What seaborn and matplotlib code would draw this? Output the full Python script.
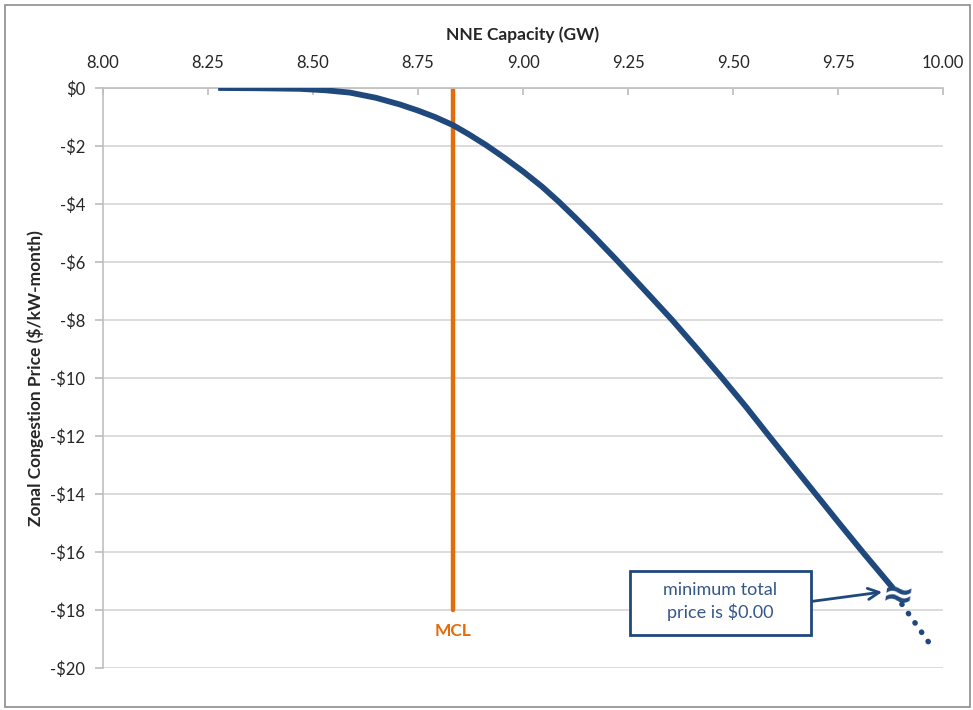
import matplotlib
matplotlib.use("Agg")
import matplotlib.pyplot as plt
import seaborn as sns
import pandas as pd
from matplotlib.patches import Rectangle

# Data
capacity_gw = [8.274, 8.37, 8.469, 8.53, 8.588, 8.65, 8.707, 8.75, 8.79, 8.833,
               8.87, 8.912, 8.955, 9.00, 9.045, 9.085, 9.125, 9.165, 9.222, 9.29,
               9.355, 9.415, 9.474, 9.53, 9.583, 9.64, 9.695, 9.755, 9.812, 9.881]
price = [0.0, -0.01, -0.03, -0.08, -0.16, -0.34, -0.57, -0.78, -1.00, -1.28,
         -1.59, -1.97, -2.40, -2.88, -3.40, -3.92, -4.48, -5.06, -5.92, -6.98,
         -8.0, -9.0, -10.0, -10.98, -11.95, -12.98, -13.97, -15.05, -16.06, -17.25]
dotted_x = [9.902, 9.970]
dotted_y = [-17.80, -19.20]
mcl_x = 8.833
mcl_bottom = -18.0
x_ticks = [8.00, 8.25, 8.50, 8.75, 9.00, 9.25, 9.50, 9.75, 10.00]
y_ticks = [0, -2, -4, -6, -8, -10, -12, -14, -16, -18, -20]

sns.set_theme(style="white")
plt.rcParams['font.family'] = ['Lato', 'DejaVu Sans']

blue = "#1F497D"
orange = "#E46C0A"

fig = plt.figure(figsize=(9.73, 7.1), dpi=100)
ax = fig.add_axes([0.1059, 0.0592, 0.8633, 0.8169])

df = pd.DataFrame({"x": capacity_gw, "y": price})
ax.yaxis.grid(True, color="#D9D9D9", linewidth=1.3)
ax.set_axisbelow(True)
sns.lineplot(data=df, x="x", y="y", ax=ax, color=blue, linewidth=4.2,
             solid_capstyle="butt", solid_joinstyle="round", zorder=3)
ax.plot(dotted_x, dotted_y, color=blue, linewidth=4.0, linestyle=(0, (0.05, 2.0)),
        dash_capstyle="round", zorder=3)

# MCL line
ax.plot([mcl_x, mcl_x], [0, mcl_bottom], color=orange, linewidth=3.2,
        solid_capstyle="round", zorder=2)
ax.text(mcl_x, -18.72, "MCL", color=orange, fontsize=12.5, fontweight="bold",
        ha="center", va="center")

# break symbol
ax.text(9.892, -17.50, "≈", color=blue, fontsize=28, fontweight="bold",
        family="DejaVu Sans", ha="center", va="center", rotation=-8, zorder=4)

ax.set_xlim(8, 10)
ax.set_ylim(-20, 0)
ax.set_xticks(x_ticks)
ax.set_xticklabels([f"{v:.2f}" for v in x_ticks], fontsize=12)
ax.set_yticks(y_ticks)
ax.set_yticklabels(["$0" if v == 0 else f"-${abs(v)}" for v in y_ticks], fontsize=12)
ax.xaxis.tick_top()
ax.xaxis.set_label_position("top")
ax.set_xlabel("NNE Capacity (GW)", fontsize=12.5, fontweight="bold", labelpad=11)
ax.set_ylabel("Zonal Congestion Price ($/kW-month)", fontsize=12.5, fontweight="bold", labelpad=4)
ax.tick_params(axis="x", which="both", top=True, bottom=False, direction="in",
               length=5, color="#BFBFBF", pad=12)
ax.tick_params(axis="y", which="both", left=True, direction="out",
               length=6, color="#BFBFBF", pad=7)
for s in ["right", "bottom"]:
    ax.spines[s].set_visible(False)
for s in ["top", "left"]:
    ax.spines[s].set_color("#BFBFBF")
    ax.spines[s].set_linewidth(1.2)

# annotation box
box_x0, box_x1, box_y0, box_y1 = 9.2548, 9.6857, -18.86, -16.655
ax.add_patch(Rectangle((box_x0, box_y0), box_x1 - box_x0, box_y1 - box_y0,
                       fc="white", ec=blue, lw=2.0, zorder=5))
ax.text((box_x0 + box_x1) / 2, (box_y0 + box_y1) / 2 + 0.05, "minimum total\nprice is $0.00",
        fontsize=13, color="#34578A", ha="center", va="center", linespacing=1.35, zorder=6)
ax.annotate("", xy=(9.855, -17.38), xytext=(box_x1 + 0.004, -17.70),
            arrowprops=dict(arrowstyle="->", color=blue, lw=2.0, mutation_scale=20,
                            shrinkA=0, shrinkB=0), zorder=6)

# outer frame
fig.patches.append(Rectangle((0.005, 0.004), 0.992, 0.989, transform=fig.transFigure,
                             fill=False, ec="#8C8C8C", lw=1.2))

fig.savefig("out.png", dpi=100)
